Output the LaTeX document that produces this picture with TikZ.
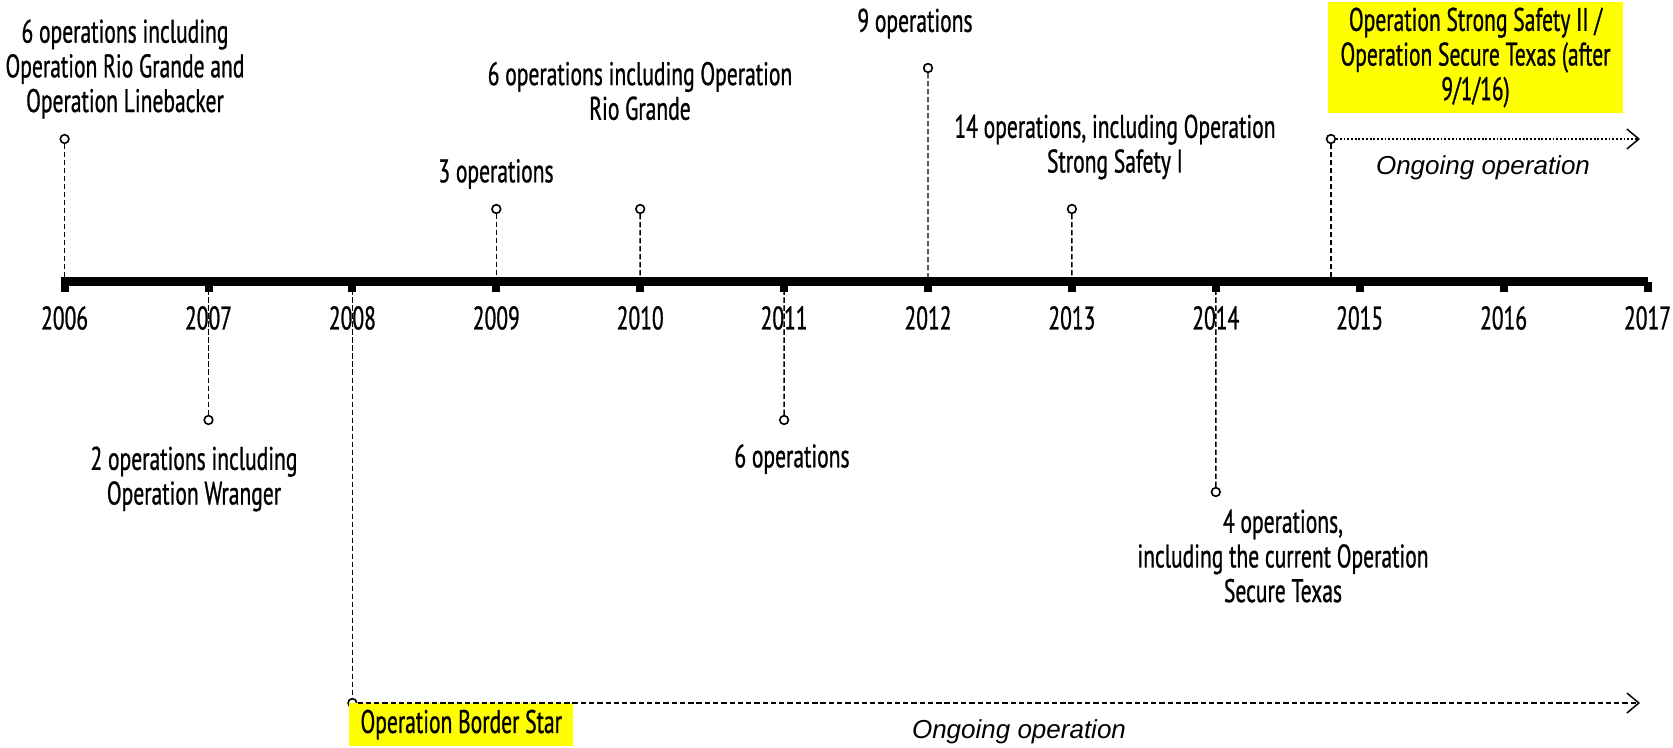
\documentclass[tikz,border=0pt]{standalone}
\usepackage{fontspec}
\setmainfont{Liberation Sans}
\newfontfamily\condfont[FakeStretch=0.66,FakeBold=0.8]{PT Sans}
\usetikzlibrary{arrows.meta}
\definecolor{hl}{RGB}{255,255,0}
\begin{document}
\begin{tikzpicture}[x=0.75pt,y=-0.75pt,
  lbl/.style={font=\condfont\fontsize{24.5}{26}\selectfont, align=center, inner sep=0pt, text=black},
  yearlbl/.style={lbl},
  evdot/.style={circle, draw=black, fill=white, line width=1.2pt, inner sep=0pt, minimum size=6.5pt},
  stem/.style={draw=black, line width=1.1pt, dash pattern=on 4pt off 2pt},
  axisline/.style={line width=6.5pt, black, shorten <=-2.8pt},
  tickbox/.style={fill=black, inner sep=0pt, minimum width=6pt, minimum height=7.5pt, anchor=north},
  ongoing/.style={font=\itshape\fontsize{19.5}{22}\selectfont, inner sep=0pt},
  hlbox/.style={lbl, fill=hl},
  longdash/.style={line width=1.2pt, dash pattern=on 4pt off 2.2pt, -{Straight Barb[length=9pt,width=15pt,line width=1.1pt]}},
  dotline/.style={line width=1.6pt, dash pattern=on 1.4pt off 1.4pt, -{Straight Barb[length=9pt,width=15pt,line width=1.1pt]}}
]
\useasboundingbox (0,0) rectangle (1673,748);

% axis coordinates and year labels
\foreach \yr [count=\i from 0] in {2006,...,2017} {
  \coordinate (p\yr) at ({64.6+143.9*\i},281.5);
  \node[yearlbl] (y\yr) at ({64.6+143.9*\i},318) {\yr};
}
\coordinate (p2015e) at (1330.9,281.5);

% main axis and ticks
\draw[axisline] (p2006) -- (p2017);
\foreach \yr in {2006,...,2017} { \node[tickbox] (t\yr) at (p\yr) {}; }

% event markers
\node[evdot] (e2006) at (64.6,139) {};
\node[evdot] (e2007) at (208.5,420) {};
\node[evdot] (e2008) at (352.4,703) {};
\node[evdot] (e2009) at (496.3,209) {};
\node[evdot] (e2010) at (640.2,209) {};
\node[evdot] (e2011) at (784.1,420) {};
\node[evdot] (e2012) at (928,68) {};
\node[evdot] (e2013) at (1071.9,209) {};
\node[evdot] (e2014) at (1215.8,492) {};
\node[evdot] (e2015) at (1330.9,139) {};

% stems
\draw[stem] (e2006) -- (p2006);
\draw[stem] (p2007) -- (e2007);
\draw[stem] (p2008) -- (e2008);
\draw[stem] (e2009) -- (p2009);
\draw[stem] (e2010) -- (p2010);
\draw[stem] (p2011) -- (e2011);
\draw[stem] (e2012) -- (p2012);
\draw[stem] (e2013) -- (p2013);
\draw[stem] (p2014) -- (e2014);
\draw[stem] (e2015) -- (p2015e);

% highlighted boxes
\node[hlbox, minimum width=168pt, minimum height=32pt, anchor=north west] (bstar) at (349,703) {Operation Border Star};
\node[hlbox, minimum width=221pt, minimum height=83pt] (sstx) at (1475.5,57.5)
  {Operation Strong Safety II /\\Operation Secure Texas (after\\9/1/16)};

% ongoing arrows
\coordinate (a1) at (1640,139);
\coordinate (a2) at (1640,703);
\draw[dotline] (e2015) -- (a1);
\draw[longdash] (e2008) -- (a2);
\node[ongoing] (og1) at (1483,168) {Ongoing operation};
\node[ongoing] (og2) at (1019,732) {Ongoing operation};

% event labels
\node[lbl] (l2006) at (125,69) {6 operations including\\Operation Rio Grande and\\Operation Linebacker};
\node[lbl] (l2007) at (194,479) {2 operations including\\Operation Wranger};
\node[lbl] (l2009) at (496,174) {3 operations};
\node[lbl] (l2010) at (640,91) {6 operations including Operation\\Rio Grande};
\node[lbl] (l2011) at (792,459) {6 operations};
\node[lbl] (l2012) at (915,23.5) {9 operations};
\node[lbl] (l2013) at (1115,147) {14 operations, including Operation\\Strong Safety I};
\node[lbl] (l2014) at (1283,556) {4 operations,\\including the current Operation\\Secure Texas};
\end{tikzpicture}
\end{document}
